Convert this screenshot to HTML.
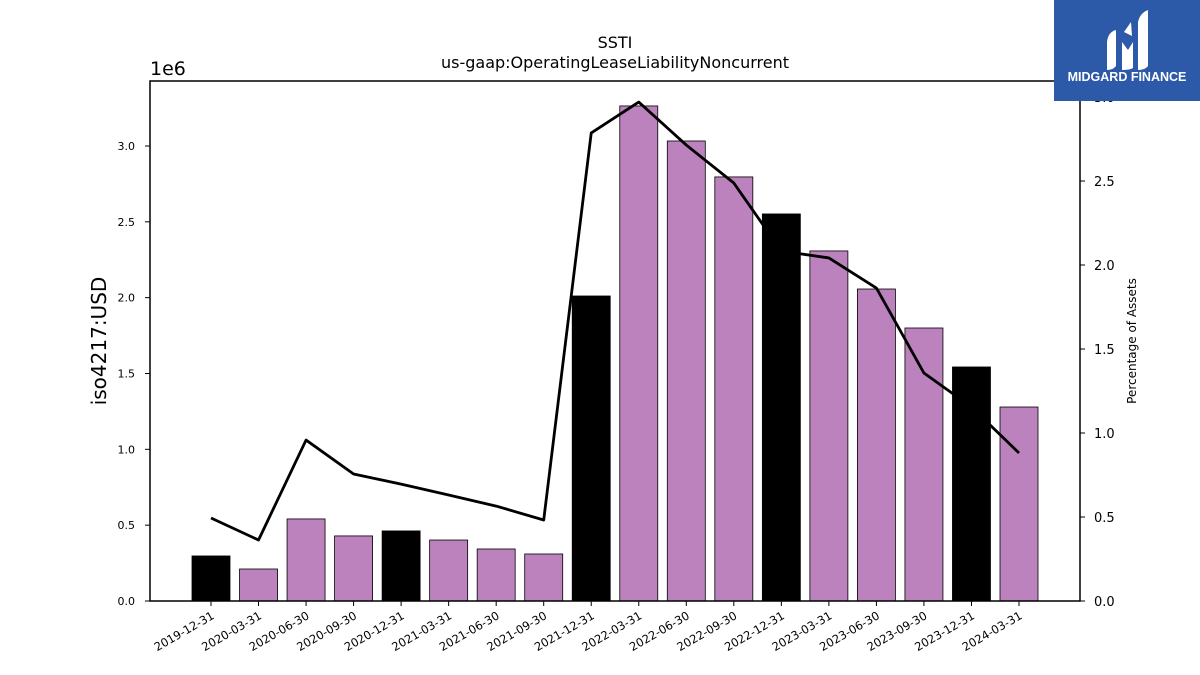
<!DOCTYPE html>
<html><head><meta charset="utf-8"><style>
body{margin:0;background:#fff;width:1200px;height:675px;overflow:hidden;font-family:"Liberation Sans","DejaVu Sans",sans-serif}
svg{position:absolute;left:0;top:0}
</style></head><body>
<svg id="chart" width="1200" height="675" font-family="DejaVu Sans, Liberation Sans, sans-serif">
<text x="615" y="48" text-anchor="middle" font-size="16">SSTI</text>
<text x="615" y="68" text-anchor="middle" font-size="16">us-gaap:OperatingLeaseLiabilityNoncurrent</text>
<text x="150" y="75" font-size="19">1e6</text>
<text transform="translate(106,341) rotate(-90)" text-anchor="middle" font-size="20">iso4217:USD</text>
<text transform="translate(1136,341) rotate(-90)" text-anchor="middle" font-size="12">Percentage of Assets</text>
<g id="bars"></g><g id="line"></g><g id="axes"></g>
<g>
<rect x="1054" y="0" width="146" height="101" fill="#2c5aa8"/>
<path d="M1107 70 L1107 42 Q1108 32 1116 30 L1116 66 Q1113 70 1107 70Z" fill="#fff"/>
<path d="M1122 70 L1122 42 L1128 50 L1133 42 L1133 68 Q1130 70 1122 70Z" fill="#fff"/>
<path d="M1124 32 L1131 22 L1132 36 Z" fill="#fff"/>
<path d="M1138 70 L1138 22 Q1140 13 1148 10 L1148 66 Q1145 70 1138 70Z" fill="#fff"/>
<text x="1127" y="81" text-anchor="middle" font-size="12.5" font-weight="bold" fill="#fff" font-family="Liberation Sans, sans-serif">MIDGARD FINANCE</text>
</g>
</svg>
<script>
const categories=["2019-12-31","2020-03-31","2020-06-30","2020-09-30","2020-12-31","2021-03-31","2021-06-30","2021-09-30","2021-12-31","2022-03-31","2022-06-30","2022-09-30","2022-12-31","2023-03-31","2023-06-30","2023-09-30","2023-12-31","2024-03-31"];
const barValues=[0.297,0.211,0.541,0.429,0.462,0.402,0.343,0.310,2.011,3.264,3.033,2.796,2.552,2.308,2.057,1.800,1.543,1.279];
const pctValues=[0.494,0.363,0.958,0.756,0.696,0.631,0.565,0.482,2.786,2.970,2.714,2.488,2.083,2.042,1.863,1.357,1.155,0.881];
const leftTicks=[0,0.5,1.0,1.5,2.0,2.5,3.0];
const rightTicks=[0,0.5,1.0,1.5,2.0,2.5,3.0];
const NS="http://www.w3.org/2000/svg";
const L=150,R=1080,T=81,B=601;
const xc=i=>211+i*(1019-211)/(categories.length-1);
const yL=v=>B-v*151.67;
const yR=v=>B-v*168;
function mk(tag,attrs,parent,text){const e=document.createElementNS(NS,tag);for(const k in attrs)e.setAttribute(k,attrs[k]);if(text!==undefined)e.textContent=text;parent.appendChild(e);return e;}
const gb=document.getElementById('bars'),gl=document.getElementById('line'),ga=document.getElementById('axes');
barValues.forEach((v,i)=>{
 const q4=categories[i].endsWith('12-31');
 const r=mk('rect',{x:xc(i)-19,y:yL(v),width:38,height:B-yL(v),fill:q4?'#000':'#bc82bd',stroke:'#000','stroke-width':0.8},gb);
 
 
});
const pl=mk('polyline',{points:pctValues.map((v,i)=>xc(i)+','+yR(v)).join(' '),fill:'none',stroke:'#000','stroke-width':2.8,'stroke-linejoin':'round'},gl);


const fr=mk('rect',{x:L,y:T,width:R-L,height:B-T,fill:'none',stroke:'#000','stroke-width':1.5},ga);


leftTicks.forEach(t=>{
 mk('line',{x1:L-5,x2:L,y1:yL(t),y2:yL(t),stroke:'#000'},ga);
 const tx=mk('text',{x:L-15,y:yL(t)+4,'text-anchor':'end','font-size':11},ga,t.toFixed(1));
 
 
});
rightTicks.forEach(t=>{
 mk('line',{x1:R,x2:R+5,y1:yR(t),y2:yR(t),stroke:'#000'},ga);
 const tx=mk('text',{x:R+14,y:yR(t)+5,'font-size':13},ga,t.toFixed(1));
 
 
});
categories.forEach((c,i)=>{
 mk('line',{x1:xc(i),x2:xc(i),y1:B,y2:B+5,stroke:'#000'},ga);
 const tx=mk('text',{transform:`translate(${xc(i)+4},${B+17}) rotate(-30)`,'text-anchor':'end','font-size':11.5},ga,c);
 
 
});
</script>
</body></html>
